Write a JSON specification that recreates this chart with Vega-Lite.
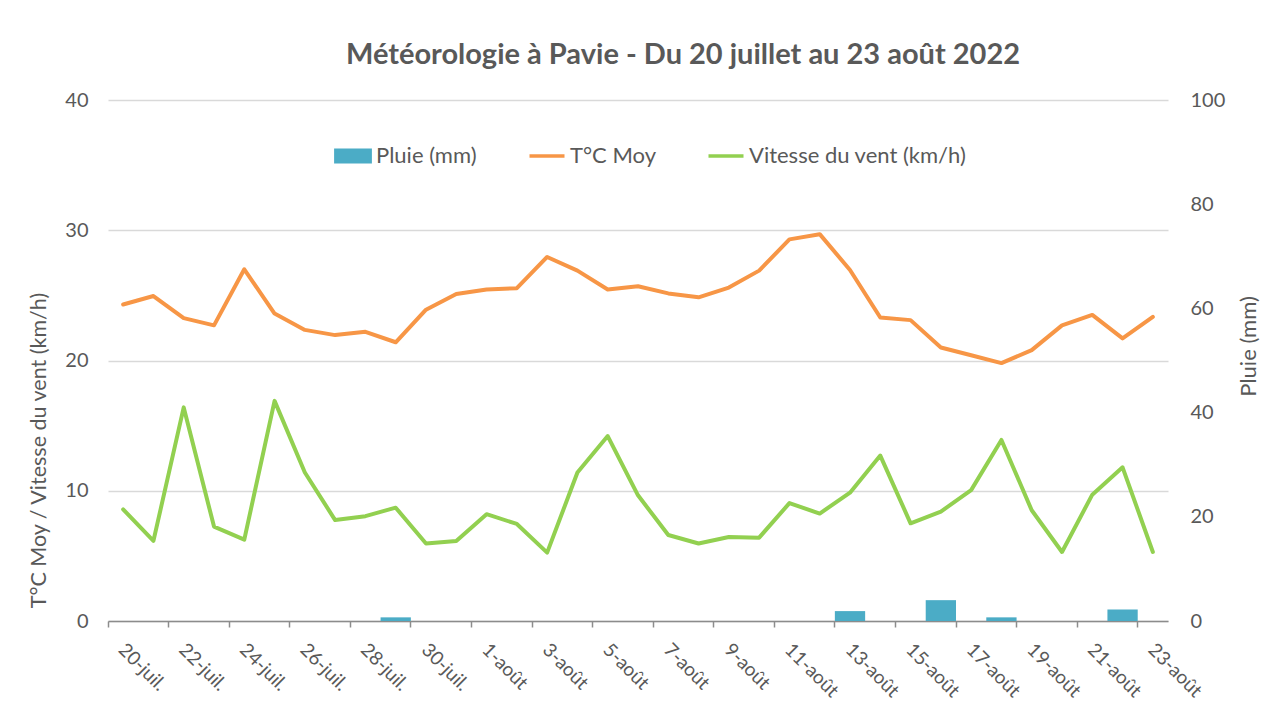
{
  "$schema": "https://vega.github.io/schema/vega-lite/v6.json",
  "width": 1060,
  "height": 521,
  "autosize": {"type": "none"},
  "padding": {"left": 108, "top": 100, "right": 98, "bottom": 97},
  "background": "white",
  "title": {
    "text": "Météorologie à Pavie - Du 20 juillet au 23 août 2022",
    "font": "Lato",
    "fontSize": 29,
    "fontWeight": "bold",
    "color": "#595959",
    "anchor": "middle",
    "dx": 45,
    "offset": 20
  },
  "data": {
    "values": [
      {"jour": "20-juil.", "temp": 24.3, "vent": 8.57, "pluie": 0},
      {"jour": "21-juil.", "temp": 24.95, "vent": 6.15, "pluie": 0},
      {"jour": "22-juil.", "temp": 23.25, "vent": 16.4, "pluie": 0},
      {"jour": "23-juil.", "temp": 22.7, "vent": 7.25, "pluie": 0},
      {"jour": "24-juil.", "temp": 27.0, "vent": 6.25, "pluie": 0},
      {"jour": "25-juil.", "temp": 23.6, "vent": 16.9, "pluie": 0},
      {"jour": "26-juil.", "temp": 22.35, "vent": 11.4, "pluie": 0},
      {"jour": "27-juil.", "temp": 21.95, "vent": 7.75, "pluie": 0},
      {"jour": "28-juil.", "temp": 22.2, "vent": 8.05, "pluie": 0},
      {"jour": "29-juil.", "temp": 21.4, "vent": 8.7, "pluie": 0.7},
      {"jour": "30-juil.", "temp": 23.9, "vent": 5.95, "pluie": 0},
      {"jour": "31-juil.", "temp": 25.1, "vent": 6.15, "pluie": 0},
      {"jour": "1-août", "temp": 25.45, "vent": 8.2, "pluie": 0},
      {"jour": "2-août", "temp": 25.55, "vent": 7.45, "pluie": 0},
      {"jour": "3-août", "temp": 27.95, "vent": 5.25, "pluie": 0},
      {"jour": "4-août", "temp": 26.9, "vent": 11.4, "pluie": 0},
      {"jour": "5-août", "temp": 25.45, "vent": 14.2, "pluie": 0},
      {"jour": "6-août", "temp": 25.7, "vent": 9.65, "pluie": 0},
      {"jour": "7-août", "temp": 25.15, "vent": 6.6, "pluie": 0},
      {"jour": "8-août", "temp": 24.85, "vent": 5.95, "pluie": 0},
      {"jour": "9-août", "temp": 25.6, "vent": 6.45, "pluie": 0},
      {"jour": "10-août", "temp": 26.9, "vent": 6.4, "pluie": 0},
      {"jour": "11-août", "temp": 29.3, "vent": 9.05, "pluie": 0},
      {"jour": "12-août", "temp": 29.7, "vent": 8.25, "pluie": 0},
      {"jour": "13-août", "temp": 26.95, "vent": 9.85, "pluie": 1.9},
      {"jour": "14-août", "temp": 23.3, "vent": 12.7, "pluie": 0},
      {"jour": "15-août", "temp": 23.1, "vent": 7.5, "pluie": 0},
      {"jour": "16-août", "temp": 21.0, "vent": 8.4, "pluie": 4.0},
      {"jour": "17-août", "temp": 20.4, "vent": 10.05, "pluie": 0},
      {"jour": "18-août", "temp": 19.8, "vent": 13.9, "pluie": 0.7},
      {"jour": "19-août", "temp": 20.8, "vent": 8.5, "pluie": 0},
      {"jour": "20-août", "temp": 22.7, "vent": 5.3, "pluie": 0},
      {"jour": "21-août", "temp": 23.5, "vent": 9.7, "pluie": 0},
      {"jour": "22-août", "temp": 21.7, "vent": 11.8, "pluie": 2.2},
      {"jour": "23-août", "temp": 23.35, "vent": 5.3, "pluie": 0}
    ]
  },
  "encoding": {
    "x": {
      "field": "jour",
      "type": "nominal",
      "sort": null,
      "scale": {"paddingInner": 0, "paddingOuter": 0},
      "axis": {
        "title": null,
        "values": ["20-juil.", "22-juil.", "24-juil.", "26-juil.", "28-juil.", "30-juil.", "1-août", "3-août", "5-août", "7-août", "9-août", "11-août", "13-août", "15-août", "17-août", "19-août", "21-août", "23-août"],
        "bandPosition": 0,
        "labelOffset": 5,
        "labelAngle": 45,
        "labelAlign": "left",
        "labelBaseline": "top",
        "labelPadding": 13,
        "labelFont": "Lato",
        "labelFontSize": 19,
        "labelColor": "#595959",
        "domainColor": "#8C8C8C",
        "domainWidth": 1.5,
        "tickColor": "#8C8C8C",
        "tickWidth": 1.5,
        "tickSize": 6,
        "grid": false
      }
    }
  },
  "layer": [
    {
      "mark": {"type": "bar"},
      "encoding": {
        "y": {
          "field": "pluie",
          "type": "quantitative",
          "scale": {"domain": [0, 100], "nice": false},
          "axis": {
            "orient": "right",
            "title": "Pluie (mm)",
            "titleAngle": 270,
            "titleFont": "Lato",
            "titleFontSize": 22,
            "titleFontWeight": "normal",
            "titleColor": "#595959",
            "titleBaseline": "bottom",
            "titleAlign": "center",
            "titleX": 92,
            "titleY": 246,
            "values": [0, 20, 40, 60, 80, 100],
            "labelFont": "Lato",
            "labelFontSize": 20,
            "labelColor": "#595959",
            "labelPadding": 22,
            "domain": false,
            "ticks": false,
            "grid": false
          }
        },
        "color": {
          "datum": "Pluie (mm)",
          "type": "nominal",
          "scale": {
            "domain": ["Pluie (mm)", "T°C Moy", "Vitesse du vent (km/h)"],
            "range": ["#4BACC6", "#F79646", "#92D050"]
          },
          "legend": {
            "orient": "none",
            "legendX": 234,
            "legendY": 45,
            "direction": "horizontal",
            "title": null,
            "labelFont": "Lato",
            "labelFontSize": 22,
            "labelColor": "#595959",
            "labelLimit": 400,
            "labelOffset": 12,
            "columnPadding": 45,
            "symbolSize": 1225,
            "encode": {
              "symbols": {
                "update": {
                  "shape": {"signal": "datum.value === 'Pluie (mm)' ? 'M-1.08,-0.43H1.08V0.43H-1.08Z' : 'stroke'"},
                  "fill": {"signal": "datum.value === 'Pluie (mm)' ? '#4BACC6' : 'transparent'"},
                  "stroke": {"signal": "datum.value === 'Pluie (mm)' ? 'transparent' : (datum.value === 'T°C Moy' ? '#F79646' : '#92D050')"},
                  "strokeWidth": {"signal": "datum.value === 'Pluie (mm)' ? 0 : 3.5"},
                  "opacity": {"value": 1},
                  "fillOpacity": {"value": 1},
                  "strokeOpacity": {"value": 1}
                }
              }
            }
          }
        }
      }
    },
    {
      "layer": [
        {
          "mark": {"type": "line", "strokeWidth": 4, "strokeJoin": "round", "strokeCap": "round"},
          "encoding": {
            "y": {
              "field": "temp",
              "type": "quantitative",
              "scale": {"domain": [0, 40], "nice": false},
              "axis": {
                "orient": "left",
                "title": "T°C Moy / Vitesse du vent (km/h)",
                "titleFont": "Lato",
                "titleFontSize": 21.5,
                "titleFontWeight": "normal",
                "titleColor": "#595959",
                "titleAngle": 270,
                "titleBaseline": "bottom",
                "titleAlign": "center",
                "titleX": -58,
                "titleY": 350,
                "values": [0, 10, 20, 30, 40],
                "labelFont": "Lato",
                "labelFontSize": 20,
                "labelColor": "#595959",
                "labelPadding": 20,
                "domain": false,
                "ticks": false,
                "grid": true,
                "gridColor": "#D9D9D9",
                "gridWidth": 1.5
              }
            },
            "color": {"datum": "T°C Moy", "type": "nominal"}
          }
        },
        {
          "mark": {"type": "line", "strokeWidth": 4, "strokeJoin": "round", "strokeCap": "round"},
          "encoding": {
            "y": {
              "field": "vent",
              "type": "quantitative",
              "scale": {"domain": [0, 40], "nice": false},
              "axis": {
                "orient": "left",
                "title": "T°C Moy / Vitesse du vent (km/h)",
                "titleFont": "Lato",
                "titleFontSize": 21.5,
                "titleFontWeight": "normal",
                "titleColor": "#595959",
                "titleAngle": 270,
                "titleBaseline": "bottom",
                "titleAlign": "center",
                "titleX": -58,
                "titleY": 350,
                "values": [0, 10, 20, 30, 40],
                "labelFont": "Lato",
                "labelFontSize": 20,
                "labelColor": "#595959",
                "labelPadding": 20,
                "domain": false,
                "ticks": false,
                "grid": true,
                "gridColor": "#D9D9D9",
                "gridWidth": 1.5
              }
            },
            "color": {"datum": "Vitesse du vent (km/h)", "type": "nominal"}
          }
        }
      ]
    }
  ],
  "resolve": {"scale": {"y": "independent"}},
  "config": {
    "view": {"stroke": null}
  }
}
